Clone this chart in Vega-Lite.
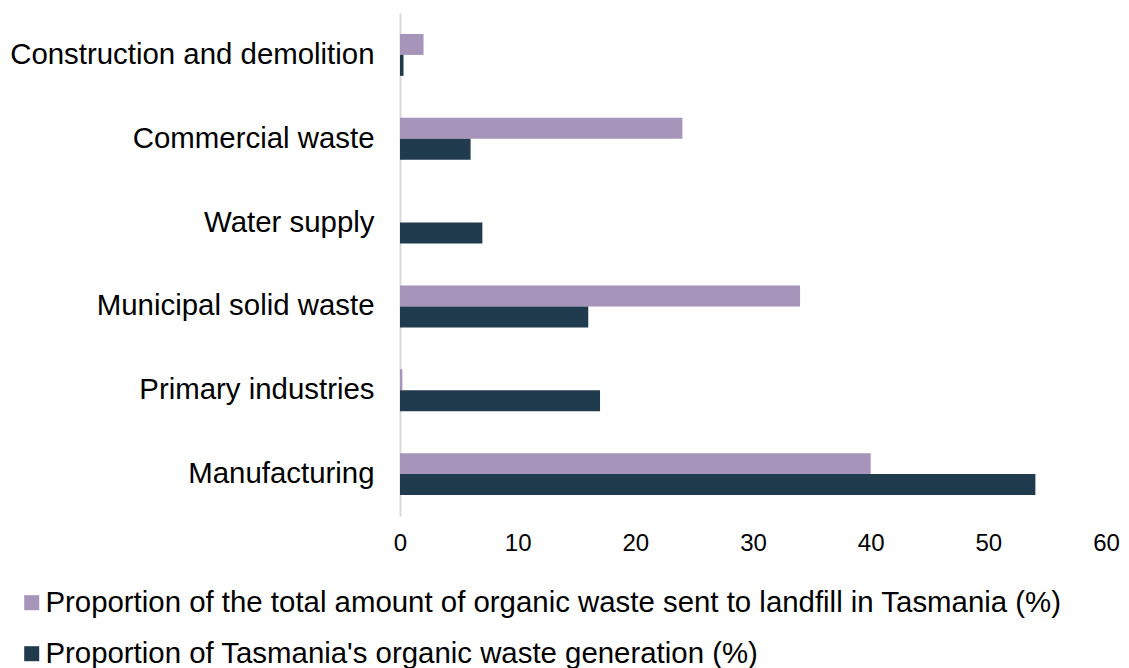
{
  "$schema": "https://vega.github.io/schema/vega-lite/v6.json",
  "width": 706,
  "height": 503,
  "autosize": {"type": "none"},
  "padding": {"left": 400, "top": 13, "right": 23, "bottom": 152},
  "background": "white",
  "config": {
    "view": {"stroke": null},
    "font": "Liberation Sans"
  },
  "data": {
    "values": [
      {"category": "Construction and demolition", "series": "Proportion of the total amount of organic waste sent to landfill in Tasmania (%)", "value": 2.0},
      {"category": "Construction and demolition", "series": "Proportion of Tasmania's organic waste generation (%)", "value": 0.3},
      {"category": "Commercial waste", "series": "Proportion of the total amount of organic waste sent to landfill in Tasmania (%)", "value": 24.0},
      {"category": "Commercial waste", "series": "Proportion of Tasmania's organic waste generation (%)", "value": 6.0},
      {"category": "Water supply", "series": "Proportion of the total amount of organic waste sent to landfill in Tasmania (%)", "value": 0},
      {"category": "Water supply", "series": "Proportion of Tasmania's organic waste generation (%)", "value": 7.0},
      {"category": "Municipal solid waste", "series": "Proportion of the total amount of organic waste sent to landfill in Tasmania (%)", "value": 34.0},
      {"category": "Municipal solid waste", "series": "Proportion of Tasmania's organic waste generation (%)", "value": 16.0},
      {"category": "Primary industries", "series": "Proportion of the total amount of organic waste sent to landfill in Tasmania (%)", "value": 0.2},
      {"category": "Primary industries", "series": "Proportion of Tasmania's organic waste generation (%)", "value": 17.0},
      {"category": "Manufacturing", "series": "Proportion of the total amount of organic waste sent to landfill in Tasmania (%)", "value": 40.0},
      {"category": "Manufacturing", "series": "Proportion of Tasmania's organic waste generation (%)", "value": 54.0}
    ]
  },
  "mark": {"type": "bar"},
  "encoding": {
    "y": {
      "field": "category",
      "type": "nominal",
      "sort": ["Construction and demolition", "Commercial waste", "Water supply", "Municipal solid waste", "Primary industries", "Manufacturing"],
      "scale": {"paddingInner": 0.5, "paddingOuter": 0.25},
      "axis": {
        "title": null,
        "ticks": false,
        "domainColor": "#d9d9d9",
        "domainWidth": 2,
        "labelFontSize": 29.4,
        "labelColor": "#000000",
        "labelPadding": 26,
        "labelLimit": 400
      }
    },
    "yOffset": {
      "field": "series",
      "type": "nominal",
      "sort": ["Proportion of the total amount of organic waste sent to landfill in Tasmania (%)", "Proportion of Tasmania's organic waste generation (%)"]
    },
    "x": {
      "field": "value",
      "type": "quantitative",
      "scale": {"domain": [0, 60], "nice": false},
      "axis": {
        "title": null,
        "values": [0, 10, 20, 30, 40, 50, 60],
        "grid": false,
        "ticks": false,
        "domain": false,
        "labelFontSize": 24,
        "labelColor": "#000000",
        "labelPadding": 15,
        "labelFlush": false
      }
    },
    "color": {
      "field": "series",
      "type": "nominal",
      "sort": ["Proportion of the total amount of organic waste sent to landfill in Tasmania (%)", "Proportion of Tasmania's organic waste generation (%)"],
      "scale": {
        "domain": ["Proportion of the total amount of organic waste sent to landfill in Tasmania (%)", "Proportion of Tasmania's organic waste generation (%)"],
        "range": ["#A794BA", "#203A4E"]
      },
      "legend": {
        "title": null,
        "orient": "none",
        "legendX": -383,
        "legendY": 575,
        "direction": "vertical",
        "symbolType": "square",
        "symbolSize": 225,
        "symbolStrokeWidth": 0,
        "symbolOpacity": 1,
        "labelFontSize": 29.4,
        "labelColor": "#000000",
        "labelLimit": 1100,
        "labelOffset": -1,
        "rowPadding": 20
      }
    }
  }
}
